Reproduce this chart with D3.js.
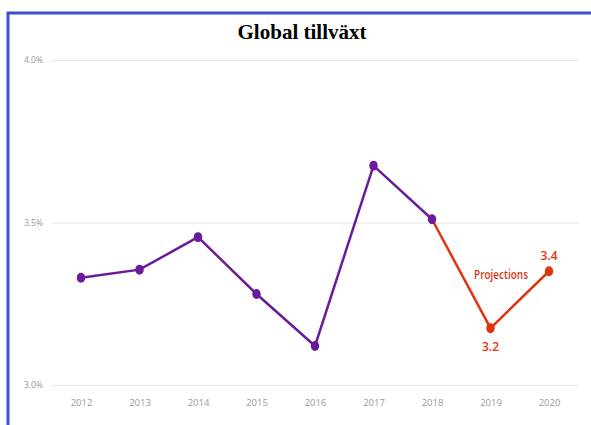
<!DOCTYPE html>
<html>
<head>
<meta charset="utf-8">
<script src="https://cdn.jsdelivr.net/npm/d3@7/dist/d3.min.js"></script>
<style>
  body { margin: 0; background: #fff; }
</style>
</head>
<body>
<div id="chart"></div>
<script>
var years = ["2012", "2013", "2014", "2015", "2016", "2017", "2018", "2019", "2020"];
var growth = [3.33, 3.355, 3.455, 3.28, 3.12, 3.675, 3.51, 3.175, 3.35];
var projectedFrom = "2018";
var projectionLabels = [{ year: "2019", text: "3.2" }, { year: "2020", text: "3.4" }];
var yTicks = [3.0, 3.5, 4.0];

var width = 591,
    height = 425;

var purple = "#6a1b9a",
    red = "#e2330f";

var svg = d3.select("#chart").append("svg")
    .attr("width", width)
    .attr("height", height);

// frame (top and left edges only visible)
svg.append("path")
    .attr("d", "M8," + height + "V13H" + width)
    .attr("fill", "none")
    .attr("stroke", "#3e4fcf")
    .attr("stroke-width", 3);

svg.append("text")
    .attr("x", 302)
    .attr("y", 39)
    .attr("text-anchor", "middle")
    .style("font-family", "'Liberation Serif', 'Times New Roman', serif")
    .style("font-weight", "bold")
    .style("font-size", "21px")
    .text("Global tillväxt");

var x = d3.scalePoint().domain(years).range([81, 549]);
var y = d3.scaleLinear().domain([3.0, 4.0]).range([385, 60]);

// gridlines + y labels
var grid = svg.append("g");
grid.selectAll("line").data(yTicks).enter().append("line")
    .attr("x1", 52).attr("x2", 579)
    .attr("y1", function (d) { return y(d) + 0.5; })
    .attr("y2", function (d) { return y(d) + 0.5; })
    .attr("stroke", "#e4e4e4")
    .attr("stroke-width", 1);
grid.selectAll("text").data(yTicks).enter().append("text")
    .attr("x", 43)
    .attr("y", function (d) { return y(d) + 3; })
    .attr("text-anchor", "end")
    .attr("fill", "#999")
    .style("font-family", "'Open Sans', sans-serif")
    .style("font-size", "8.5px")
    .text(function (d) { return d3.format(".1f")(d) + "%"; });

// x axis labels
var xAxis = svg.append("g")
    .attr("transform", "translate(0,400)")
    .call(d3.axisBottom(x).tickSize(0).tickPadding(0));
xAxis.select(".domain").remove();
xAxis.selectAll("text")
    .attr("fill", "#999")
    .attr("dy", "0.6em")
    .style("font-family", "'Open Sans', sans-serif")
    .style("font-size", "9.5px");

var data = years.map(function (yr, i) { return { year: yr, value: growth[i] }; });
var split = years.indexOf(projectedFrom);
var actual = data.slice(0, split + 1);
var projected = data.slice(split);

var line = d3.line()
    .x(function (d) { return x(d.year); })
    .y(function (d) { return y(d.value); });

svg.append("path").datum(projected)
    .attr("d", line)
    .attr("fill", "none")
    .attr("stroke", red)
    .attr("stroke-width", 2.5);
svg.append("path").datum(actual)
    .attr("d", line)
    .attr("fill", "none")
    .attr("stroke", purple)
    .attr("stroke-width", 2.5);

svg.selectAll("ellipse.dot").data(data).enter().append("ellipse")
    .attr("class", "dot")
    .attr("cx", function (d) { return x(d.year); })
    .attr("cy", function (d) { return y(d.value); })
    .attr("rx", 4.2)
    .attr("ry", 5)
    .attr("fill", function (d, i) { return i <= split ? purple : red; });

// projection annotations
var labelFont = "'Open Sans', sans-serif";
projectionLabels.forEach(function (p) {
  var d = data[years.indexOf(p.year)];
  var below = p.year === "2019";
  svg.append("text")
      .attr("x", x(p.year))
      .attr("y", y(d.value) + (below ? 23 : -11))
      .attr("text-anchor", "middle")
      .attr("fill", red)
      .style("font-family", labelFont)
      .style("font-weight", "600")
      .style("font-size", "12px")
      .text(p.text);
});

svg.append("text")
    .attr("x", 501)
    .attr("y", 279)
    .attr("text-anchor", "middle")
    .attr("fill", red)
    .style("font-family", labelFont)
    .style("font-weight", "600")
    .style("font-size", "12px")
    .attr("textLength", 54)
    .attr("lengthAdjust", "spacingAndGlyphs")
    .text("Projections");
</script>
</body>
</html>
